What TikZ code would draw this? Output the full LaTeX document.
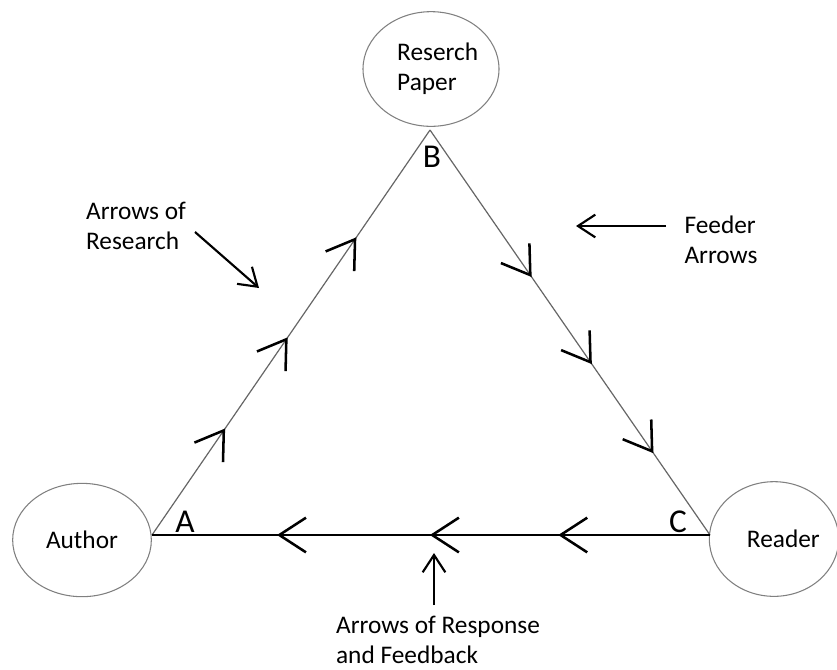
\documentclass[tikz,border=0pt]{standalone}
\usepackage{fontspec}
\setmainfont{Carlito}
\usetikzlibrary{positioning,shapes.geometric,arrows.meta,decorations.markings}

\tikzset{
  blob/.style={ellipse,draw=gray,line width=0.8pt,inner sep=0pt},
  side/.style={draw=gray!80!black,line width=0.9pt},
  chevron/.style={postaction={decorate,decoration={markings,
      mark=at position #1 with {\arrow[black]{Straight Barb[length=20pt,width=26pt,line width=1.9pt]}}}}},
  pointer/.style={-{Straight Barb[length=13pt,width=17pt]},line width=1.6pt,black},
  corner/.style={font=\fontsize{25}{30}\selectfont},
}

\begin{document}
\begin{tikzpicture}[x=0.75pt,y=-0.75pt,
  every node/.style={font=\fontsize{19}{22.5}\selectfont,align=left}]
\useasboundingbox (0,0) rectangle (837,669);
\coordinate (A) at (152,535);
\coordinate (B) at (430,130);
\coordinate (C) at (710,535);

\node[blob,minimum width=102pt,minimum height=86pt] (paper)  at (431,69)  {\hspace*{10pt}Reserch\\\hspace*{10pt}Paper};
\node[blob,minimum width=104pt,minimum height=85pt] (author) at (82,540)  {Author};
\node[blob,minimum width=96pt,minimum height=86pt]  (reader) at (774,539) {\hspace*{14pt}Reader};

\draw[side,chevron=.263,chevron=.488,chevron=.735] (A) -- (B);
\draw[side,chevron=.363,chevron=.578,chevron=.798] (B) -- (C);
\draw[line width=0.9pt,chevron=.272,chevron=.502,chevron=.776] (C) -- (A);

\node[corner] (labA) at (185,522) {A};
\node[corner] (labB) at (432,157) {B};
\node[corner] (labC) at (678,522) {C};

\node (research) at (136,226) {Arrows of\\Research};
\node (feeder)   at (721,240) {Feeder\\Arrows};
\node (response) at (438,640) {Arrows of Response\\and Feedback};

% pointers to the edges
\coordinate (rs1) at (195,232); \coordinate (rs2) at (259,288);
\coordinate (fd1) at (666,226); \coordinate (fd2) at (576,226);
\coordinate (rp1) at (434,605); \coordinate (rp2) at (434,553);
\draw[pointer] (rs1) -- (rs2);
\draw[pointer] (fd1) -- (fd2);
\draw[pointer] (rp1) -- (rp2);
\end{tikzpicture}
\end{document}
